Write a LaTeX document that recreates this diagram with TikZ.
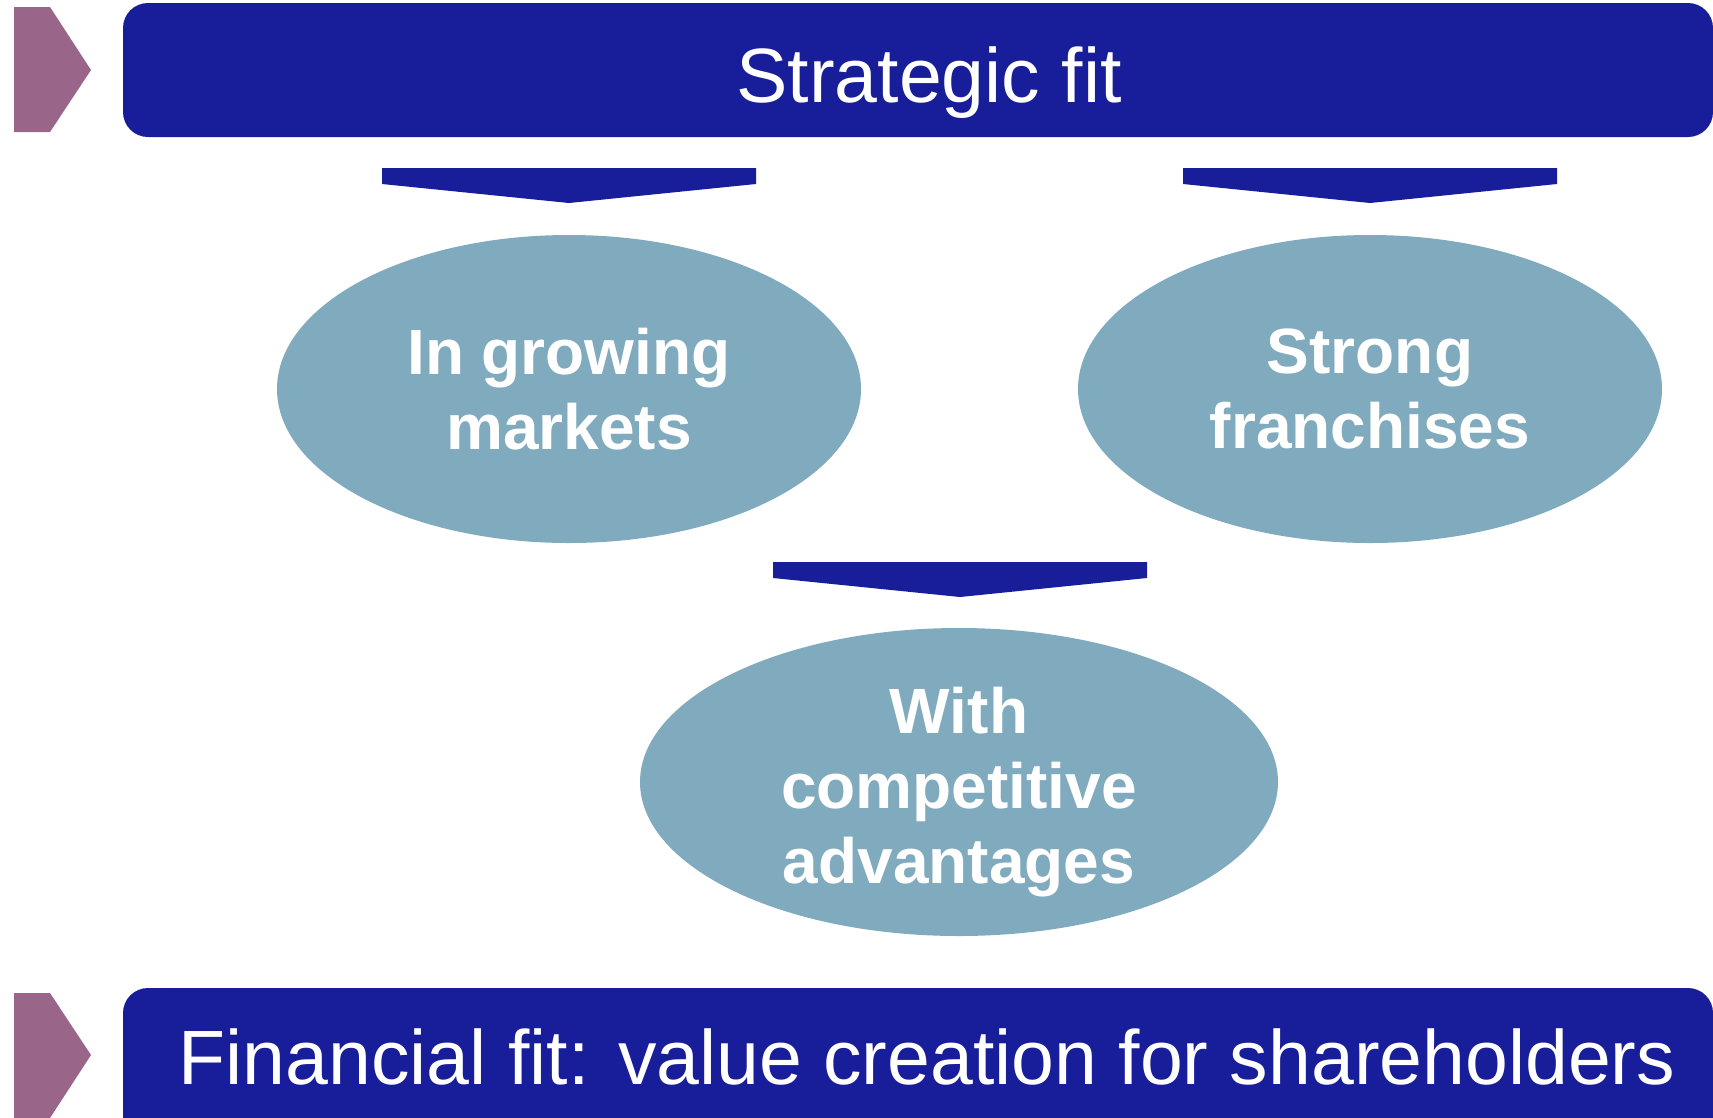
\documentclass[tikz,border=0pt]{standalone}
\usepackage{fontspec}
\setmainfont{Liberation Sans}
\usetikzlibrary{shapes.geometric}
\definecolor{barblue}{RGB}{24, 29, 153}
\definecolor{plum1}{RGB}{153, 102, 137}
\definecolor{teal1}{RGB}{128, 170, 189}

\tikzset{
  banner/.style={fill=barblue, rounded corners=25pt},
  bannertext/.style={text=white, anchor=base, font=\fontsize{77}{90}\selectfont},
  bubble/.style={ellipse, fill=teal1, inner sep=0pt, minimum width=#1, minimum height=308pt},
  bubbletext/.style={text=white, align=center, font=\fontsize{64}{75}\selectfont\bfseries},
  marker/.style={fill=plum1}
}

% funnel bar: centre x, top y
\newcommand{\funnel}[2]{
  \fill[barblue] (#1,#2) ++(-187,0) -- ++(374,0) -- ++(0,16) -- ++(-187,19) -- ++(-187,-19) -- cycle;
}

\begin{document}
\begin{tikzpicture}[x=1pt, y=-1pt]
  \clip (0,0) rectangle (1713,1117);
  \useasboundingbox (0,0) rectangle (1713,1117);

  % top banner
  \fill[marker] (14,7) -- (50,7) -- (91,70) -- (50,132) -- (14,132) -- cycle;
  \fill[banner] (123,3) rectangle (1713,137);
  \node[bannertext] (strategic) at (929,102) {Strategic fit};

  % the three bubbles
  \funnel{569}{168}
  \funnel{1370}{168}
  \funnel{960}{562}

  \node[bubble=584pt] (growing) at (569,389) {};
  \node[bubbletext] (growingtxt) at (growing.center) {In growing\\markets};

  \node[bubble=584pt] (strong) at (1370,389) {};
  \node[bubbletext] (strongtxt) at (strong.center) {Strong\\franchises};

  \node[bubble=638pt] (advantage) at (959,782) {};
  \node[bubbletext] (advantagetxt) at ([yshift=-10pt]advantage.center) {With\\competitive\\advantages};

  % bottom banner
  \fill[marker] (14,993) -- (50,993) -- (91,1055) -- (50,1118) -- (14,1118) -- cycle;
  \fill[banner] (123,988) rectangle (1713,1170);
  \node[bannertext] (financial) at (927,1084) {Financial fit: value creation for shareholders};
\end{tikzpicture}
\end{document}
